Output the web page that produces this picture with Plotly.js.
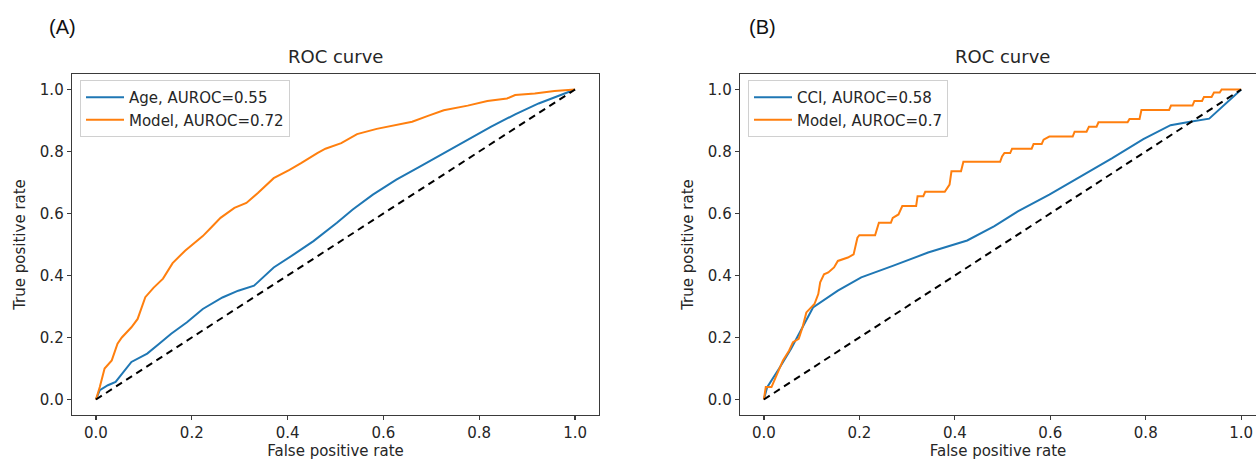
<!DOCTYPE html>
<html>
<head>
<meta charset="utf-8">
<script src="https://cdn.plot.ly/plotly-3.0.1.min.js"></script>
<style>html,body{margin:0;padding:0;background:#fff;}#chart{width:1256px;height:463px;}</style>
</head>
<body>
<div id="chart"></div>
<script>
// ---- Panel A data ----
const ageFpr   = [0, 0.008, 0.025, 0.041, 0.074, 0.107, 0.132, 0.157, 0.19, 0.223, 0.264, 0.297, 0.33, 0.371, 0.413, 0.454, 0.503, 0.536, 0.578, 0.627, 0.677, 0.726, 0.776, 0.825, 0.875, 0.924, 1];
const ageTpr   = [0, 0.03, 0.046, 0.057, 0.121, 0.148, 0.18, 0.212, 0.249, 0.292, 0.329, 0.351, 0.367, 0.426, 0.468, 0.511, 0.57, 0.613, 0.661, 0.709, 0.752, 0.795, 0.837, 0.88, 0.92, 0.955, 1];
const modelAFpr = [0, 0.008, 0.018, 0.033, 0.045, 0.054, 0.074, 0.087, 0.103, 0.12, 0.14, 0.16, 0.186, 0.206, 0.223, 0.24, 0.26, 0.289, 0.314, 0.338, 0.371, 0.404, 0.429, 0.462, 0.479, 0.512, 0.545, 0.586, 0.627, 0.66, 0.693, 0.726, 0.776, 0.817, 0.858, 0.875, 0.916, 0.957, 1];
const modelATpr = [0, 0.04, 0.10, 0.126, 0.18, 0.20, 0.233, 0.26, 0.33, 0.36, 0.39, 0.44, 0.48, 0.506, 0.527, 0.554, 0.586, 0.618, 0.634, 0.666, 0.714, 0.741, 0.763, 0.795, 0.809, 0.827, 0.856, 0.873, 0.886, 0.896, 0.915, 0.933, 0.948, 0.963, 0.971, 0.982, 0.987, 0.995, 1];
// ---- Panel B data ----
const cciFpr = [0, 0.007, 0.032, 0.057, 0.081, 0.103, 0.155, 0.204, 0.27, 0.344, 0.426, 0.483, 0.532, 0.598, 0.664, 0.729, 0.795, 0.852, 0.893, 0.933, 1];
const cciTpr = [0, 0.04, 0.10, 0.164, 0.233, 0.297, 0.351, 0.394, 0.431, 0.474, 0.513, 0.559, 0.607, 0.661, 0.72, 0.778, 0.84, 0.885, 0.896, 0.906, 1];
const modelBFpr = [0, 0.004, 0.016, 0.028, 0.04, 0.053, 0.061, 0.073, 0.081, 0.089, 0.106, 0.114, 0.118, 0.126, 0.135, 0.147, 0.155, 0.176, 0.188, 0.196, 0.2, 0.233, 0.241, 0.266, 0.27, 0.282, 0.29, 0.319, 0.322, 0.334, 0.338, 0.379, 0.389, 0.393, 0.413, 0.418, 0.495, 0.499, 0.504, 0.516, 0.52, 0.561, 0.565, 0.582, 0.586, 0.598, 0.647, 0.651, 0.676, 0.681, 0.697, 0.701, 0.762, 0.766, 0.787, 0.791, 0.849, 0.853, 0.898, 0.902, 0.918, 0.922, 0.938, 0.943, 0.955, 0.959, 1];
const modelBTpr = [0, 0.04, 0.04, 0.083, 0.126, 0.158, 0.185, 0.196, 0.233, 0.281, 0.308, 0.34, 0.378, 0.404, 0.41, 0.426, 0.447, 0.458, 0.468, 0.522, 0.53, 0.53, 0.57, 0.57, 0.586, 0.597, 0.624, 0.624, 0.656, 0.656, 0.67, 0.67, 0.693, 0.736, 0.736, 0.767, 0.767, 0.784, 0.795, 0.795, 0.809, 0.809, 0.824, 0.824, 0.838, 0.848, 0.848, 0.864, 0.864, 0.88, 0.88, 0.894, 0.894, 0.905, 0.905, 0.934, 0.934, 0.948, 0.948, 0.963, 0.963, 0.976, 0.976, 0.99, 0.99, 1, 1];
const chanceLine = [0, 1];
const ticks = [0, 0.2, 0.4, 0.6, 0.8, 1.0];
const tickText = ['0.0', '0.2', '0.4', '0.6', '0.8', '1.0'];
const labelsA = ['Age, AUROC=0.55', 'Model, AUROC=0.72'];
const labelsB = ['CCI, AUROC=0.58', 'Model, AUROC=0.7'];

const W = 1256, H = 463;
const BLUE = '#1f77b4', ORANGE = '#ff7f0e';
const FONT = 'DejaVu Sans, sans-serif';
const TXT = '#262626', AX = '#3a3a3a';
const px = v => v / W;
const py = v => 1 - v / H;

const traces = [
  {x: ageFpr, y: ageTpr, name: labelsA[0], mode: 'lines', line: {color: BLUE, width: 2}, xaxis: 'x', yaxis: 'y', legend: 'legend'},
  {x: modelAFpr, y: modelATpr, name: labelsA[1], mode: 'lines', line: {color: ORANGE, width: 2}, xaxis: 'x', yaxis: 'y', legend: 'legend'},
  {x: chanceLine, y: chanceLine, mode: 'lines', line: {color: '#000', width: 2, dash: '7px,5px'}, showlegend: false, xaxis: 'x', yaxis: 'y'},
  {x: cciFpr, y: cciTpr, name: labelsB[0], mode: 'lines', line: {color: BLUE, width: 2}, xaxis: 'x2', yaxis: 'y2', legend: 'legend2'},
  {x: modelBFpr, y: modelBTpr, name: labelsB[1], mode: 'lines', line: {color: ORANGE, width: 2}, xaxis: 'x2', yaxis: 'y2', legend: 'legend2'},
  {x: chanceLine, y: chanceLine, mode: 'lines', line: {color: '#000', width: 2, dash: '7px,5px'}, showlegend: false, xaxis: 'x2', yaxis: 'y2'}
];

function xax(domain, range, mirror) {
  return {domain: domain, range: range, showgrid: false, zeroline: false, showline: true, mirror: mirror,
    linecolor: AX, linewidth: 1.3, ticks: 'outside', ticklen: 4, tickcolor: AX, tickwidth: 1.3,
    tickvals: ticks, ticktext: tickText, tickfont: {family: FONT, size: 15, color: TXT},
    title: {text: 'False positive rate', font: {family: FONT, size: 15, color: TXT}, standoff: 4}};
}
function yax(anchor, mirror) {
  return {domain: [py(415), py(74)], range: [-0.05, 1.05], anchor: anchor, showgrid: false, zeroline: false,
    showline: true, mirror: mirror, linecolor: AX, linewidth: 1.3, ticks: 'outside', ticklen: 4, tickcolor: AX, tickwidth: 1.3,
    tickvals: ticks, ticktext: tickText, tickfont: {family: FONT, size: 15, color: TXT},
    title: {text: 'True positive rate', font: {family: FONT, size: 15, color: TXT}, standoff: 10}};
}

const legendStyle = (x) => ({x: px(x), y: py(80), xanchor: 'left', yanchor: 'top', bgcolor: 'rgba(255,255,255,0.9)',
  bordercolor: '#d0d0d0', borderwidth: 1, font: {family: FONT, size: 15, color: TXT}, tracegroupgap: 0, itemwidth: 38});

const layout = {
  width: W, height: H, margin: {l: 0, r: 0, t: 0, b: 0}, paper_bgcolor: '#fff', plot_bgcolor: '#fff',
  showlegend: true,
  xaxis: xax([px(72), px(599)], [-0.05, 1.05], true),
  yaxis: yax('x', true),
  xaxis2: Object.assign(xax([px(740), 1], [-0.05, 1.031], true), {anchor: 'y2'}),
  yaxis2: yax('x2', false),
  legend: legendStyle(80),
  legend2: legendStyle(748),
  annotations: [
    {text: 'ROC curve', xref: 'paper', yref: 'paper', x: px(335.5), y: py(57), xanchor: 'center', yanchor: 'middle', showarrow: false, font: {family: FONT, size: 18, color: TXT}},
    {text: 'ROC curve', xref: 'paper', yref: 'paper', x: px(1002), y: py(57), xanchor: 'center', yanchor: 'middle', showarrow: false, font: {family: FONT, size: 18, color: TXT}},
    {text: '(A)', xref: 'paper', yref: 'paper', x: px(47), y: py(27), xanchor: 'left', yanchor: 'middle', showarrow: false, font: {family: 'Liberation Sans, Arial, sans-serif', size: 20, color: '#111'}},
    {text: '(B)', xref: 'paper', yref: 'paper', x: px(747), y: py(27), xanchor: 'left', yanchor: 'middle', showarrow: false, font: {family: 'Liberation Sans, Arial, sans-serif', size: 20, color: '#111'}}
  ]
};
layout.xaxis.anchor = 'y';

Plotly.newPlot('chart', traces, layout, {displayModeBar: false, staticPlot: true});
</script>
</body>
</html>
